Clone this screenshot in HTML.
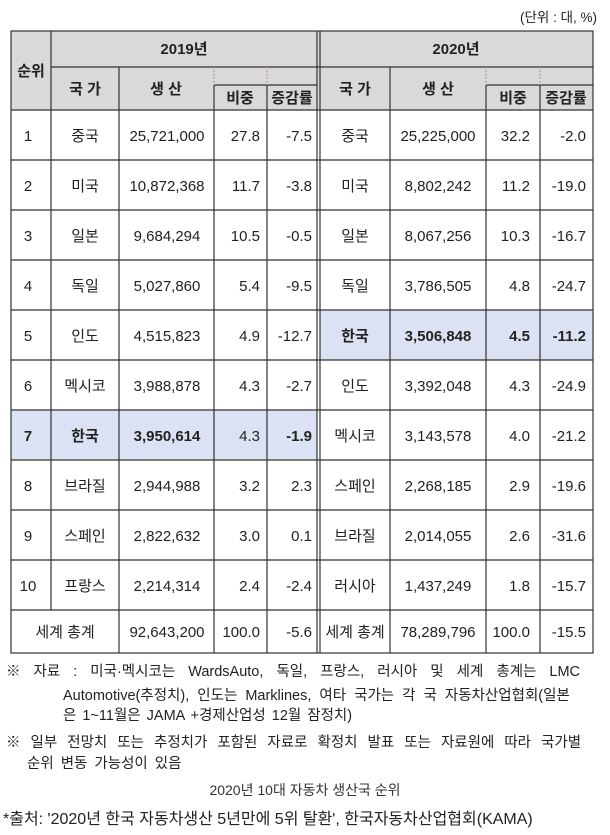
<!DOCTYPE html>
<html><head><meta charset="utf-8"><style>
body{margin:0;background:#fff;width:610px;height:835px;overflow:hidden}
svg{display:block}
text{font-family:"Liberation Sans","Noto Sans CJK KR",sans-serif;font-size:15px;fill:#222}
.b{font-weight:bold}
.m{text-anchor:middle}
.e{text-anchor:end}
.nt{font-size:14.5px}
</style></head><body>
<svg width="610" height="835" xmlns="http://www.w3.org/2000/svg">
<text x="597" y="22" text-anchor="end" style="font-size:13.5px">(단위 : 대, %)</text>
<rect x="11" y="31" width="582" height="79" fill="#d9d9d9"/>
<rect x="11" y="410" width="306" height="50" fill="#dbe2f3"/>
<rect x="320" y="310" width="273" height="50" fill="#dbe2f3"/>
<g stroke="#333" stroke-width="1.2" fill="none">
<rect x="11" y="31" width="582" height="622"/>
<line x1="51" y1="67" x2="593" y2="67"/>
<line x1="11" y1="110" x2="593" y2="110"/>
<line x1="214" y1="85" x2="317" y2="85"/>
<line x1="486" y1="85" x2="593" y2="85"/>
<line x1="51" y1="31" x2="51" y2="610"/>
<line x1="317" y1="31" x2="317" y2="653"/>
<line x1="320" y1="31" x2="320" y2="653"/>
<line x1="119" y1="67" x2="119" y2="653"/>
<line x1="214" y1="85" x2="214" y2="653"/>
<line x1="267" y1="85" x2="267" y2="653"/>
<line x1="390" y1="67" x2="390" y2="653"/>
<line x1="486" y1="85" x2="486" y2="653"/>
<line x1="540" y1="85" x2="540" y2="653"/>
<line x1="214" y1="67" x2="214" y2="85" stroke="#d08080" stroke-dasharray="1.5,2"/>
<line x1="267" y1="67" x2="267" y2="85" stroke="#d08080" stroke-dasharray="1.5,2"/>
<line x1="486" y1="67" x2="486" y2="85" stroke="#d08080" stroke-dasharray="1.5,2"/>
<line x1="540" y1="67" x2="540" y2="85" stroke="#d08080" stroke-dasharray="1.5,2"/>
<line x1="11" y1="160" x2="593" y2="160"/>
<line x1="11" y1="210" x2="593" y2="210"/>
<line x1="11" y1="260" x2="593" y2="260"/>
<line x1="11" y1="310" x2="593" y2="310"/>
<line x1="11" y1="360" x2="593" y2="360"/>
<line x1="11" y1="410" x2="593" y2="410"/>
<line x1="11" y1="460" x2="593" y2="460"/>
<line x1="11" y1="510" x2="593" y2="510"/>
<line x1="11" y1="560" x2="593" y2="560"/>
<line x1="11" y1="610" x2="593" y2="610"/>
</g>
<text x="31" y="76" class="m b">순위</text>
<text x="184" y="54" class="m b">2019년</text>
<text x="456" y="54" class="m b">2020년</text>
<text x="85" y="94" class="m b">국 가</text>
<text x="166" y="94" class="m b">생  산</text>
<text x="240" y="103" class="m b">비중</text>
<text x="292" y="103" class="m b">증감률</text>
<text x="355" y="94" class="m b">국 가</text>
<text x="438" y="94" class="m b">생  산</text>
<text x="513" y="103" class="m b">비중</text>
<text x="566" y="103" class="m b">증감률</text>

<text x="28" y="141" class="m">1</text><text x="85" y="141" class="m">중국</text><text x="167" y="141" class="m">25,721,000</text><text x="260" y="141" class="e">27.8</text><text x="312" y="141" class="e">-7.5</text>
<text x="355" y="141" class="m">중국</text><text x="438" y="141" class="m">25,225,000</text><text x="530" y="141" class="e">32.2</text><text x="586" y="141" class="e">-2.0</text>

<text x="28" y="191" class="m">2</text><text x="85" y="191" class="m">미국</text><text x="167" y="191" class="m">10,872,368</text><text x="260" y="191" class="e">11.7</text><text x="312" y="191" class="e">-3.8</text>
<text x="355" y="191" class="m">미국</text><text x="438" y="191" class="m">8,802,242</text><text x="530" y="191" class="e">11.2</text><text x="586" y="191" class="e">-19.0</text>

<text x="28" y="241" class="m">3</text><text x="85" y="241" class="m">일본</text><text x="167" y="241" class="m">9,684,294</text><text x="260" y="241" class="e">10.5</text><text x="312" y="241" class="e">-0.5</text>
<text x="355" y="241" class="m">일본</text><text x="438" y="241" class="m">8,067,256</text><text x="530" y="241" class="e">10.3</text><text x="586" y="241" class="e">-16.7</text>

<text x="28" y="291" class="m">4</text><text x="85" y="291" class="m">독일</text><text x="167" y="291" class="m">5,027,860</text><text x="260" y="291" class="e">5.4</text><text x="312" y="291" class="e">-9.5</text>
<text x="355" y="291" class="m">독일</text><text x="438" y="291" class="m">3,786,505</text><text x="530" y="291" class="e">4.8</text><text x="586" y="291" class="e">-24.7</text>

<text x="28" y="341" class="m">5</text><text x="85" y="341" class="m">인도</text><text x="167" y="341" class="m">4,515,823</text><text x="260" y="341" class="e">4.9</text><text x="312" y="341" class="e">-12.7</text>
<text x="355" y="341" class="m b">한국</text><text x="438" y="341" class="m b">3,506,848</text><text x="530" y="341" class="e b">4.5</text><text x="586" y="341" class="e b">-11.2</text>

<text x="28" y="391" class="m">6</text><text x="85" y="391" class="m">멕시코</text><text x="167" y="391" class="m">3,988,878</text><text x="260" y="391" class="e">4.3</text><text x="312" y="391" class="e">-2.7</text>
<text x="355" y="391" class="m">인도</text><text x="438" y="391" class="m">3,392,048</text><text x="530" y="391" class="e">4.3</text><text x="586" y="391" class="e">-24.9</text>

<text x="28" y="441" class="m b">7</text><text x="85" y="441" class="m b">한국</text><text x="167" y="441" class="m b">3,950,614</text><text x="260" y="441" class="e">4.3</text><text x="312" y="441" class="e b">-1.9</text>
<text x="355" y="441" class="m">멕시코</text><text x="438" y="441" class="m">3,143,578</text><text x="530" y="441" class="e">4.0</text><text x="586" y="441" class="e">-21.2</text>

<text x="28" y="491" class="m">8</text><text x="85" y="491" class="m">브라질</text><text x="167" y="491" class="m">2,944,988</text><text x="260" y="491" class="e">3.2</text><text x="312" y="491" class="e">2.3</text>
<text x="355" y="491" class="m">스페인</text><text x="438" y="491" class="m">2,268,185</text><text x="530" y="491" class="e">2.9</text><text x="586" y="491" class="e">-19.6</text>

<text x="28" y="541" class="m">9</text><text x="85" y="541" class="m">스페인</text><text x="167" y="541" class="m">2,822,632</text><text x="260" y="541" class="e">3.0</text><text x="312" y="541" class="e">0.1</text>
<text x="355" y="541" class="m">브라질</text><text x="438" y="541" class="m">2,014,055</text><text x="530" y="541" class="e">2.6</text><text x="586" y="541" class="e">-31.6</text>

<text x="28" y="591" class="m">10</text><text x="85" y="591" class="m">프랑스</text><text x="167" y="591" class="m">2,214,314</text><text x="260" y="591" class="e">2.4</text><text x="312" y="591" class="e">-2.4</text>
<text x="355" y="591" class="m">러시아</text><text x="438" y="591" class="m">1,437,249</text><text x="530" y="591" class="e">1.8</text><text x="586" y="591" class="e">-15.7</text>

<text x="65" y="637" class="m">세계  총계</text><text x="167" y="637" class="m">92,643,200</text><text x="260" y="637" class="e">100.0</text><text x="312" y="637" class="e">-5.6</text>
<text x="355" y="637" class="m">세계 총계</text><text x="438" y="637" class="m">78,289,796</text><text x="530" y="637" class="e">100.0</text><text x="586" y="637" class="e">-15.5</text>

<text x="6" y="676" class="nt" style="word-spacing:9px">※ 자료 : 미국·멕시코는 WardsAuto, 독일, 프랑스, 러시아 및 세계 총계는 LMC</text>
<text x="63" y="700" class="nt" style="word-spacing:4px">Automotive(추정치), 인도는 Marklines, 여타 국가는 각 국 자동차산업협회(일본</text>
<text x="63" y="720" class="nt" style="word-spacing:2px">은 1~11월은 JAMA +경제산업성 12월 잠정치)</text>
<text x="6" y="747" class="nt" style="word-spacing:6px">※ 일부 전망치 또는 추정치가 포함된 자료로 확정치 발표 또는 자료원에 따라 국가별</text>
<text x="27" y="768" class="nt" style="word-spacing:3px">순위 변동 가능성이 있음</text>
<text x="305" y="795" class="m" style="font-size:14px;fill:#333">2020년 10대 자동차 생산국 순위</text>
<text x="3" y="824" style="font-size:16px">*출처: '2020년 한국 자동차생산 5년만에 5위 탈환', 한국자동차산업협회(KAMA)</text>
</svg>
</body></html>
